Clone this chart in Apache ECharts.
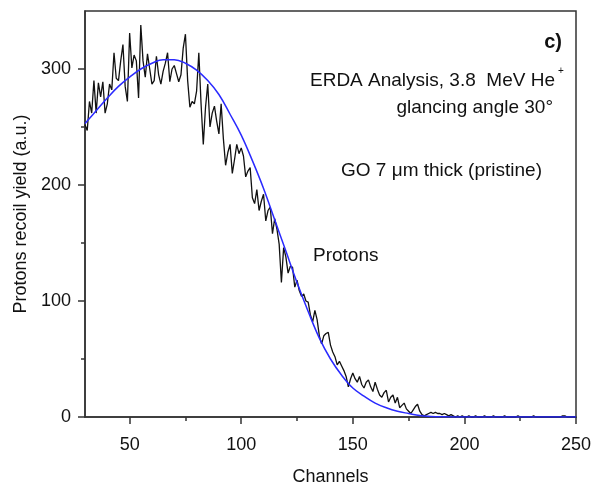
<!DOCTYPE html>
<html>
<head>
<meta charset="utf-8">
<script src="https://cdn.jsdelivr.net/npm/echarts@6/dist/echarts.min.js"></script>
<style>
html,body{margin:0;padding:0;background:#fff;}
#chart{width:605px;height:498px;}
</style>
</head>
<body>
<div id="chart"></div>
<script>
// ---- data ----
var channelStart = 30;
var measuredYield = [
 252,247,272,262,290,262,288,276,289,262, // 30-39
 270,287,282,314,292,290,307,321,285,272, // 40-49
 331,301,312,307,275,338,307,293,313,300, // 50-59
 287,290,311,295,287,298,305,314,289,300, // 60-69
 303,296,289,295,318,330,290,267,272,270, // 70-79
 281,314,270,235,267,287,250,262,268,255, // 80-89
 244,270,240,217,228,235,210,222,235,227, // 90-99
 232,225,207,212,215,189,184,196,178,186, // 100-109
 192,169,178,181,158,171,162,149,116,146, // 110-119
 138,124,130,129,112,118,109,104,106,100, // 120-129
 99,88,82,92,84,70,63,70,72,73,           // 130-139
 62,56,52,45,48,44,40,35,26,33,           // 140-149
 38,33,30,35,28,25,30,32,26,22,           // 150-159
 30,24,19,17,21,23,13,17,19,12,           // 160-169
 17,8,10,12,7,5,3,6,9,11,                 // 170-179
 5,2,1,2,3,4,3,4,3,3,                     // 180-189
 2,3,2,1,2,1,0,1,0,1,                     // 190-199
 0,0,1,0,0,1,0,0,0,1,                     // 200-209
 0,0,0,1,0,0,0,0,1,0,                     // 210-219
 0,0,0,0,1,0,0,0,0,0,                     // 220-229
 0,1,0,0,0,0,0,0,0,0,                     // 230-239
 0,0,0,0,1,1,0,0,0,0,                     // 240-249
 0                                        // 250
];
var fitChannels = [30,35,40,45,50,55,60,65,70,75,80,85,90,95,100,105,110,115,120,125,130,135,140,145,150,155,160,165,170,175,180,185,190,200,210,220,230,240,250];
var fitYield    = [253,264,275,285,293,300,305,308,308,305,299,290,278,261,243,221,197,170,143,116,91,68,50,36,25,18,12,8,5,3,1.2,0.5,0.2,0,0,0,0,0,0];
var xTickLabels = [50,100,150,200,250];
var xMinorTicks = [75,125,175,225];
var yTickLabels = [0,100,200,300];
var yMinorTicks = [50,150,250];

var measured = measuredYield.map(function(v,i){return [channelStart+i, v];});
var fit = fitChannels.map(function(c,i){return [c, fitYield[i]];});

var FONT = 'Liberation Sans, Arial, sans-serif';
var axisColor = '#333';

var chart = echarts.init(document.getElementById('chart'));
chart.setOption({
  animation:false,
  backgroundColor:'#fff',
  grid:{left:85,right:29,top:11,bottom:81,show:true,borderColor:axisColor,borderWidth:1.5,backgroundColor:'transparent'},
  xAxis:[{
    type:'value',min:30,max:250,
    name:'Channels',nameLocation:'middle',nameGap:51,
    nameTextStyle:{fontFamily:FONT,fontSize:18,color:'#111'},
    axisLine:{show:true,lineStyle:{color:axisColor,width:1.5}},
    axisTick:{show:true,customValues:xTickLabels,length:7,lineStyle:{color:axisColor,width:1.5}},
    axisLabel:{customValues:xTickLabels,fontFamily:FONT,fontSize:18,color:'#111',margin:19},
    splitLine:{show:false}
  },{
    type:'value',min:30,max:250,position:'bottom',
    axisLine:{show:false},
    axisTick:{show:true,customValues:xMinorTicks,length:4,lineStyle:{color:axisColor,width:1.5}},
    axisLabel:{show:false},splitLine:{show:false}
  }],
  yAxis:[{
    type:'value',min:0,max:350,
    name:'Protons recoil yield (a.u.)',nameLocation:'middle',nameGap:49,
    nameTextStyle:{fontFamily:FONT,fontSize:18,color:'#111'},
    axisLine:{show:true,lineStyle:{color:axisColor,width:1.5}},
    axisTick:{show:true,customValues:yTickLabels,length:7,lineStyle:{color:axisColor,width:1.5}},
    axisLabel:{customValues:yTickLabels,fontFamily:FONT,fontSize:18,color:'#111',margin:14},
    splitLine:{show:false}
  },{
    type:'value',min:0,max:350,position:'left',
    axisLine:{show:false},
    axisTick:{show:true,customValues:yMinorTicks,length:4,lineStyle:{color:axisColor,width:1.5}},
    axisLabel:{show:false},splitLine:{show:false}
  }],
  series:[{
    type:'line',data:measured,showSymbol:false,symbol:'none',
    lineStyle:{color:'#111',width:1.3},z:2
  },{
    type:'line',data:fit,showSymbol:false,symbol:'none',smooth:0.4,
    lineStyle:{color:'#2a2aff',width:1.5},z:3
  }],
  graphic:[
    {type:'text',right:43,top:32,style:{text:'c)',font:'bold 20px '+FONT,fill:'#111'}},
    {type:'text',left:310,top:71,style:{text:'ERDA Analysis, 3.8  MeV He',font:'19px '+FONT,fill:'#111'}},
    {type:'text',left:558,top:66,style:{text:'+',font:'10px '+FONT,fill:'#111'}},
    {type:'text',right:52,top:98,style:{text:'glancing angle 30°',font:'19px '+FONT,fill:'#111'}},
    {type:'text',left:341,top:161,style:{text:'GO 7 μm thick (pristine)',font:'19px '+FONT,fill:'#111'}},
    {type:'text',left:313,top:246,style:{text:'Protons',font:'19px '+FONT,fill:'#111'}}
  ]
});
</script>
</body>
</html>
